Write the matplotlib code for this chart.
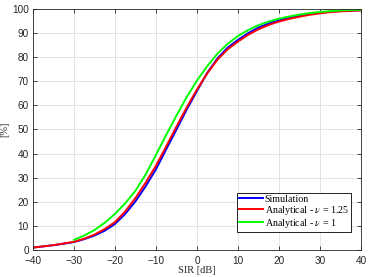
import matplotlib
matplotlib.use("Agg")
import matplotlib.pyplot as plt

plt.rcParams['mathtext.fontset'] = 'stix'

# SIR axis [dB] and CDF values [%]
sir = [-40, -37.5, -35, -32.5, -30, -27.5, -25, -22.5, -20, -17.5, -15, -12.5,
       -10, -7.5, -5, -2.5, 0, 2.5, 5, 7.5, 10, 12.5, 15, 17.5, 20, 22.5, 25,
       27.5, 30, 32.5, 35, 37.5, 40]
sim = [1.0, 1.5, 2.0, 2.6, 3.3, 4.5, 6.0, 8.0, 10.8, 15.0, 20.2, 26.5,
       33.5, 41.8, 50.0, 58.3, 66.0, 73.5, 79.5, 84.0, 87.2, 90.0, 92.3, 94.0,
       95.3, 96.4, 97.3, 98.0, 98.5, 98.9, 99.2, 99.4, 99.5]
ana_125 = [1.0, 1.5, 2.0, 2.7, 3.4, 4.7, 6.4, 8.7, 11.6, 16.0, 21.6, 28.0,
           35.0, 43.0, 51.2, 59.2, 66.6, 73.3, 79.0, 83.3, 86.5, 89.3, 91.6, 93.4,
           94.8, 95.9, 96.8, 97.6, 98.2, 98.7, 99.0, 99.2, 99.4]
sir_1 = sir[4:]
ana_1 = [4.2, 6.0, 8.3, 11.3, 15.0, 19.4, 24.6, 31.4,
         39.5, 47.8, 55.8, 63.5, 70.3, 76.3, 81.5, 85.6, 88.8, 91.3, 93.3, 94.8,
         96.0, 96.9, 97.7, 98.3, 98.8, 99.1, 99.4, 99.6, 99.7]

labels = ['Simulation', r'Analytical - $\nu$ = 1.25', r'Analytical - $\nu$ = 1']
xticks = list(range(-40, 41, 10))
yticks = list(range(0, 101, 10))

fig = plt.figure(figsize=(3.74, 2.77), dpi=100)
ax = fig.add_axes([0.0882, 0.0975, 0.877, 0.87])

ax.plot(sir, sim, color=(0, 0, 1), lw=1.4, label=labels[0])
ax.plot(sir, ana_125, color=(1, 0, 0), lw=1.4, label=labels[1])
ax.plot(sir_1, ana_1, color=(0, 1, 0), lw=1.4, label=labels[2])

ax.set_xlim(-40, 40)
ax.set_ylim(0, 100)
ax.set_xticks(xticks)
ax.set_yticks(yticks)
ax.grid(True, color=(0.87, 0.87, 0.87), linewidth=0.6)
ax.set_axisbelow(True)

# MATLAB-ish box and ticks
dark = (0.15, 0.15, 0.15)
for s in ax.spines.values():
    s.set_linewidth(0.6)
    s.set_color(dark)
ax.tick_params(direction='in', top=True, right=True, length=3, width=0.6,
               color=dark, labelcolor=dark, labelsize=7.2)
ax.tick_params(axis='x', pad=4)
ax.tick_params(axis='y', pad=3)
for t in ax.get_xticklabels() + ax.get_yticklabels():
    t.set_family('Liberation Sans')

ax.set_xlabel('SIR [dB]', family='Liberation Serif', fontsize=7.5,
              color=dark, labelpad=0)
ax.set_ylabel('[%]', family='Liberation Serif', fontsize=7.5,
              color=dark, labelpad=2)

leg = ax.legend(loc='lower right', bbox_to_anchor=(0.97, 0.075),
                borderaxespad=0, prop={'family': 'Liberation Serif', 'size': 7.2},
                fancybox=False, framealpha=1, edgecolor='black',
                handlelength=2.4, handletextpad=0.2, labelspacing=0.02,
                borderpad=0.2)
leg.get_frame().set_linewidth(0.6)

fig.savefig('out.png', dpi=100)
